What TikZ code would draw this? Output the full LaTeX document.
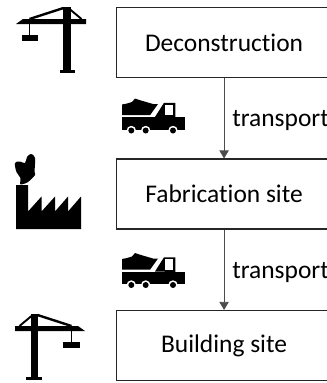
\documentclass[tikz,border=0pt]{standalone}
\usepackage{fontspec}
\setmainfont[Ligatures=NoCommon]{Carlito}
\usetikzlibrary{positioning, arrows.meta}
\tikzstyle{site} = [rectangle, draw=black!85, line width=1.1pt, minimum width=161pt, minimum height=52.5pt, align=center, font=\fontsize{19.1pt}{22pt}\selectfont, anchor=north west]
\tikzstyle{arrow} = [-{Triangle[length=6pt,width=7pt]}, draw=black!70, line width=0.6pt]
\tikzstyle{label} = [inner sep=0pt, anchor=west, font=\fontsize{19.1pt}{22pt}\selectfont]

\tikzset{
  crane/.pic={
    \fill (-3.5,0) rectangle (4,65);
    \fill (-7,63) rectangle (8.5,66);
    \fill (-50.5,17) -- (-43.5,12) -- (19.5,12) -- (19.5,17) -- cycle;
    \draw[line width=1.8pt] (-37,12) -- (-3,1);
    \draw[line width=1.4pt] (3,2) -- (15,12);
    \draw[line width=0.8pt] (-37,16) -- (-37,28);
    \fill (-45,27.5) rectangle (-28.5,34);
  },
  truck/.pic={
    % load
    \fill (0,16.7) -- (0,6) -- (5,5) -- (10,3.5) -- (13,0) -- (19,2) -- (31,5.5) -- (36,5.5) -- (28,16.7) -- cycle;
    % cab
    \fill (33,18.5) -- (42,4.3) -- (53.3,4.3) -- (53.3,19) -- cycle;
    \fill[white] (43.3,6) rectangle (51.3,16.7);
    % chassis
    \fill (0,18.7) rectangle (62.7,31);
    % wheels
    \foreach \wx in {9.3,23.7,51} {
      \fill[white] (\wx,32) circle (4.7);
      \fill (\wx,32) circle (3);
    }
  }
}

\begin{document}
\begin{tikzpicture}[x=0.75pt, y=-0.75pt, node distance=60pt]

\clip (0,0) rectangle (327,383);
\useasboundingbox (0,0) rectangle (327,383);

% Sites
\node[site] (decon) at (116,7) {Deconstruction};
\node[site, below=of decon] (fab) {Fabrication site};
\node[site, below=of fab] (build) {Building site};

% Transport
\draw[arrow] (decon) -- (fab);
\draw[arrow] (fab) -- (build);
\node[label] (label1) at (232,120.5) {transport};
\node[label] (label2) at (232,272.5) {transport};

% Icons
\pic at (66.5,7) {crane};
\pic[xscale=-1] at (34.5,314) {crane};
\pic at (122,98.5) {truck};
\pic at (122,253) {truck};

% Factory
\fill (16,185) -- (28,185) -- (28,211.5) -- (41.5,196.5) -- (41.5,211.5) -- (55,196.5) -- (55,211.5) -- (68,196.5) -- (68,211.5) -- (81,196.5) -- (81,229) -- (16,229) -- cycle;
\fill plot[smooth cycle, tension=0.6] coordinates {(20,184) (20.5,178) (16.5,172) (15,163) (20,161.5) (25,163) (27,157) (31,154) (35,158) (34.5,172) (35,175) (28,182) (23,184)};

\end{tikzpicture}
\end{document}
